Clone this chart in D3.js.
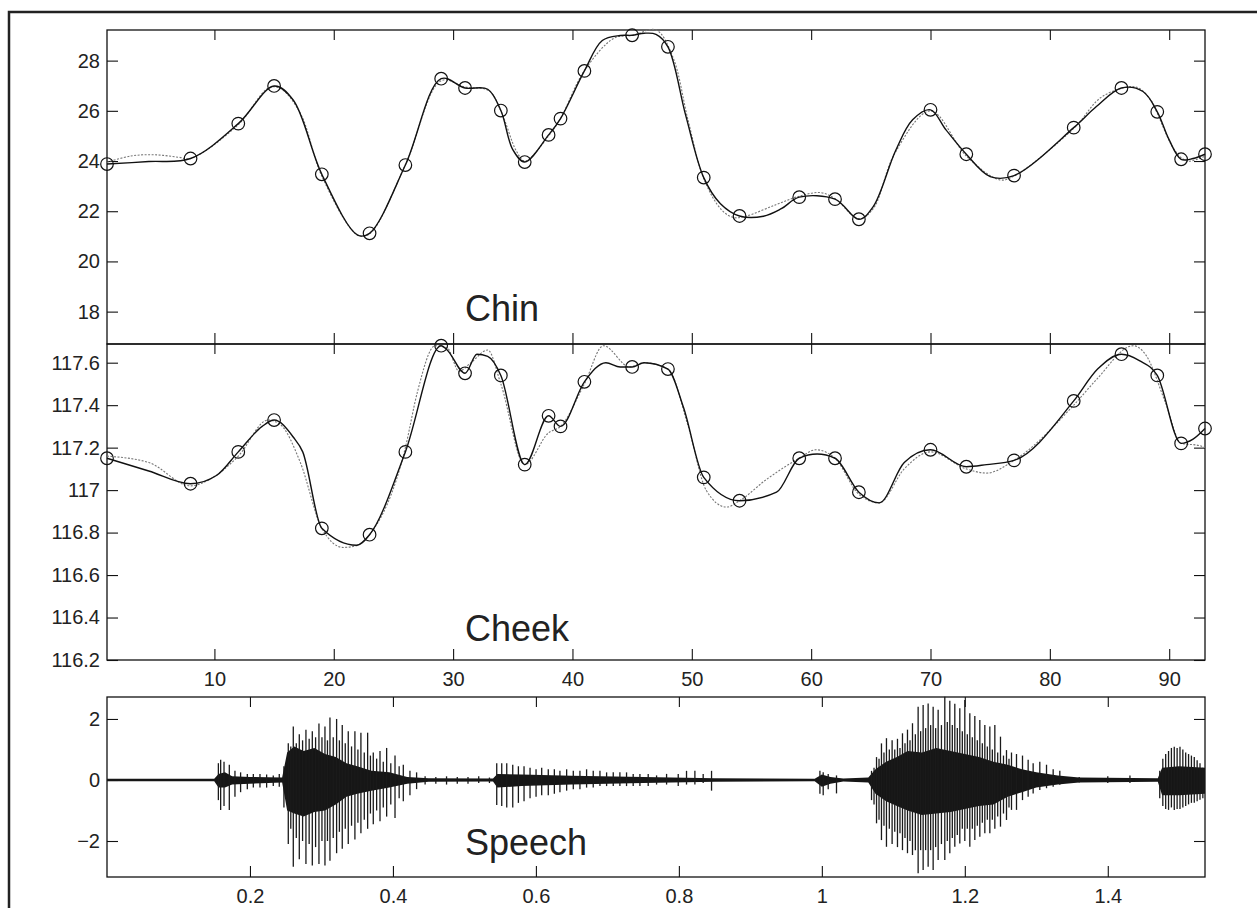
<!DOCTYPE html>
<html>
<head>
<meta charset="utf-8">
<script src="https://cdn.jsdelivr.net/npm/d3@7"></script>
<style>
  body { margin: 0; background: #fff; }
  svg { display: block; }
</style>
</head>
<body>
<svg id="chart" width="1257" height="908"></svg>
<script>
// key frames (circles) shared by the Chin and Cheek panels
const keyFrames = [1, 8, 12, 15, 19, 23, 26, 29, 31, 34, 36, 38, 39, 41, 45, 48, 51, 54, 59, 62, 64, 70, 73, 77, 82, 86, 89, 91, 93];
const chinKeys  = [23.88, 24.10, 25.49, 26.99, 23.47, 21.12, 23.84, 27.28, 26.91, 26.01, 23.96, 25.04, 25.69, 27.59, 29.01, 28.55, 23.34, 21.81, 22.56, 22.48, 21.68, 26.04, 24.27, 23.42, 25.33, 26.91, 25.96, 24.07, 24.27];
const cheekKeys = [117.15, 117.03, 117.18, 117.33, 116.82, 116.79, 117.18, 117.68, 117.55, 117.54, 117.12, 117.35, 117.30, 117.51, 117.58, 117.57, 117.06, 116.95, 117.15, 117.15, 116.99, 117.19, 117.11, 117.14, 117.42, 117.64, 117.54, 117.22, 117.29];

const chinSolidF = [1, 4.5, 8, 12, 15, 16.6, 19, 22, 23, 26, 29, 31, 32.9, 34, 35, 36, 38, 39, 41, 42.5, 44, 45, 46, 47, 48, 49.5, 51, 52.4, 54, 56, 57.5, 59, 62, 64, 65.2, 67.1, 68.5, 70, 71.3, 73, 75, 77, 82, 83.9, 86, 87.8, 89, 90, 91, 92, 93];
const chinSolidV = [23.88, 23.98, 24.10, 25.49, 26.99, 26.43, 23.47, 21.05, 21.12, 23.84, 27.28, 26.91, 26.86, 26.01, 24.45, 23.96, 25.04, 25.69, 27.59, 28.80, 29.00, 29.01, 29.09, 29.05, 28.55, 25.80, 23.34, 22.30, 21.81, 21.80, 22.10, 22.56, 22.48, 21.68, 22.18, 24.44, 25.64, 26.04, 25.24, 24.27, 23.38, 23.42, 25.33, 26.17, 26.91, 26.77, 25.96, 24.84, 24.07, 24.10, 24.27];
const chinDotF = [1, 3, 5, 7, 8, 12, 14.5, 15.5, 17.2, 19, 22, 23, 26, 29, 31, 33, 34, 35.3, 36, 38, 39, 41, 43.5, 45, 47, 48.4, 49.7, 51, 52.5, 53.5, 54.5, 57, 59, 60.8, 62, 64, 65.2, 67, 70, 73, 75.8, 77, 82, 84.4, 87.2, 88.5, 89, 90.5, 91.5, 92.5, 93];
const chinDotV = [23.95, 24.20, 24.25, 24.15, 24.10, 25.45, 26.90, 26.90, 25.90, 23.40, 21.05, 21.10, 23.85, 27.20, 26.95, 26.80, 26.00, 24.40, 24.00, 25.00, 25.70, 27.60, 28.90, 29.00, 29.22, 28.16, 25.60, 23.30, 22.05, 21.75, 21.80, 22.25, 22.60, 22.74, 22.50, 21.70, 22.10, 24.30, 26.00, 24.20, 23.25, 23.40, 25.30, 26.57, 26.95, 26.40, 25.90, 24.40, 24.00, 24.10, 24.20];

const cheekSolidF = [1, 4.5, 8, 10.2, 12, 14, 15, 16.6, 17.4, 19, 21.9, 23, 26, 29, 29.5, 31, 32, 32.9, 34, 36, 38, 39, 41, 42.8, 44, 45, 46, 48, 49.3, 51, 54, 57.1, 59, 60.5, 62, 64, 65.7, 67.8, 70, 73, 74.7, 77, 82, 84, 86, 87.5, 89, 91, 92, 93];
const cheekSolidV = [117.15, 117.09, 117.03, 117.07, 117.18, 117.30, 117.33, 117.25, 117.18, 116.82, 116.74, 116.79, 117.18, 117.68, 117.66, 117.55, 117.64, 117.63, 117.54, 117.12, 117.35, 117.30, 117.51, 117.60, 117.58, 117.58, 117.60, 117.57, 117.39, 117.06, 116.95, 116.99, 117.15, 117.17, 117.15, 116.99, 116.94, 117.13, 117.19, 117.11, 117.12, 117.14, 117.42, 117.57, 117.64, 117.61, 117.54, 117.22, 117.24, 117.29];
const cheekDotF = [1, 4.5, 8, 9.6, 12, 14.5, 15.5, 17.2, 19, 20.8, 22, 23, 26, 27, 28.5, 29.5, 30.5, 31.5, 32.9, 34, 36, 38, 39, 41, 42.6, 44.8, 46, 48, 49.7, 51.2, 52.9, 54, 56.25, 59, 60.4, 62, 64, 65.7, 67.8, 70, 73, 74.7, 77, 82, 83.9, 87, 88, 89.7, 91, 92.5, 93];
const cheekDotV = [117.16, 117.13, 117.02, 117.05, 117.16, 117.33, 117.31, 117.13, 116.82, 116.73, 116.74, 116.79, 117.20, 117.46, 117.68, 117.67, 117.56, 117.60, 117.66, 117.50, 117.12, 117.27, 117.30, 117.50, 117.68, 117.58, 117.60, 117.57, 117.30, 117.00, 116.92, 116.95, 117.05, 117.15, 117.19, 117.15, 116.98, 116.94, 117.10, 117.18, 117.10, 117.08, 117.14, 117.40, 117.52, 117.68, 117.64, 117.41, 117.22, 117.21, 117.20];

// speech waveform: glottal pulses (time s, upper and lower peak) and the dense core band
const pulseT = [
  0.1558, 0.1590, 0.1637, 0.1711, 0.1790, 0.1869, 0.1963, 0.2047, 0.2140, 0.2233, 0.2326, 0.2410, 0.2475,
  0.2536, 0.2571, 0.2606, 0.2648, 0.2690, 0.2736, 0.2783, 0.2828, 0.2872, 0.2918, 0.2965, 0.3007, 0.3049, 0.3084, 0.3119, 0.3165, 0.3212, 0.3251, 0.3291, 0.3333, 0.3375, 0.3421, 0.3468, 0.3510, 0.3552, 0.3599, 0.3646, 0.3685, 0.3725, 0.3772, 0.3819, 0.3865, 0.3912, 0.3970, 0.4029, 0.4087, 0.4145, 0.4238, 0.4331,
  0.4450, 0.4600, 0.4750, 0.4900, 0.5050, 0.5200, 0.5350,
  0.5452, 0.5522, 0.5592, 0.5676, 0.5755, 0.5834, 0.5918, 0.6002, 0.6081, 0.6173, 0.6258, 0.6336, 0.6430, 0.6523, 0.6616, 0.6709, 0.6802, 0.6896, 0.6989, 0.7082, 0.7175, 0.7268, 0.7361, 0.7455, 0.7571, 0.7688, 0.7828, 0.7991, 0.8107, 0.8224, 0.8340, 0.8457,
  0.9973, 1.0019, 1.0089, 1.0205,
  1.0695, 1.0730, 1.0765, 1.0800, 1.0834, 1.0869, 1.0904, 1.0944, 1.0983, 1.1020, 1.1058, 1.1093, 1.1128, 1.1163, 1.1198, 1.1233, 1.1268, 1.1308, 1.1347, 1.1382, 1.1417, 1.1452, 1.1487, 1.1522, 1.1557, 1.1592, 1.1627, 1.1673, 1.1720, 1.1755, 1.1790, 1.1825, 1.1860, 1.1895, 1.1930, 1.1965, 1.2000, 1.2035, 1.2070, 1.2105, 1.2140, 1.2175, 1.2210, 1.2245, 1.2280, 1.2315, 1.2350, 1.2385, 1.2420, 1.2460, 1.2499, 1.2541, 1.2583, 1.2618, 1.2653, 1.2723, 1.2807, 1.2886, 1.2956, 1.3049, 1.3143, 1.3236, 1.3329,
  1.3600, 1.4000, 1.4310,
  1.4727, 1.4770, 1.4810, 1.4850, 1.4890, 1.4930, 1.4970, 1.5010, 1.5050, 1.5090, 1.5130, 1.5170, 1.5210, 1.5250, 1.5290, 1.5330
];
const pulseHi = [
  0.55, 0.66, 0.60, 0.50, 0.30, 0.25, 0.20, 0.20, 0.20, 0.18, 0.15, 0.20, 0.45,
  1.20, 1.10, 1.75, 1.20, 1.50, 1.30, 1.65, 1.35, 1.60, 1.40, 1.85, 1.40, 1.75, 1.30, 2.05, 1.40, 2.00, 1.30, 1.80, 1.20, 1.60, 1.10, 1.60, 1.00, 1.55, 0.90, 1.55, 0.80, 0.90, 0.70, 0.95, 0.60, 1.05, 0.55, 0.80, 0.45, 0.50, 0.30, 0.25,
  0.12, 0.10, 0.12, 0.10, 0.10, 0.12, 0.08,
  0.55, 0.55, 0.55, 0.50, 0.45, 0.45, 0.40, 0.35, 0.40, 0.35, 0.35, 0.30, 0.35, 0.30, 0.30, 0.35, 0.30, 0.30, 0.25, 0.25, 0.25, 0.25, 0.20, 0.20, 0.20, 0.15, 0.20, 0.20, 0.30, 0.30, 0.20, 0.30,
  0.30, 0.25, 0.20, 0.15,
  0.30, 0.40, 0.75, 0.70, 1.20, 0.90, 1.37, 1.00, 1.30, 1.00, 1.35, 1.05, 1.53, 1.20, 1.65, 1.30, 1.86, 1.50, 2.40, 1.60, 2.46, 1.70, 2.51, 1.80, 2.40, 1.70, 2.30, 1.80, 2.73, 1.90, 2.60, 1.80, 2.50, 1.70, 2.35, 1.60, 2.62, 1.50, 2.19, 1.40, 2.10, 1.30, 1.97, 1.20, 1.80, 1.10, 1.75, 1.00, 1.80, 0.90, 1.42, 0.80, 0.98, 0.70, 0.90, 0.85, 0.80, 0.66, 0.55, 0.60, 0.50, 0.35, 0.30,
  0.10, 0.12, 0.15,
  0.30, 0.70, 0.85, 0.95, 1.05, 1.09, 1.05, 1.09, 1.00, 0.90, 0.85, 0.80, 0.75, 0.65, 0.55, 0.40
];
const pulseLo = [
  -0.66, -0.98, -0.85, -0.98, -0.55, -0.40, -0.30, -0.25, -0.25, -0.25, -0.20, -0.22, -0.90,
  -2.10, -1.60, -2.84, -1.90, -2.60, -2.00, -2.75, -2.10, -2.80, -2.20, -2.75, -2.00, -2.80, -2.00, -2.65, -1.90, -2.40, -1.70, -2.25, -1.60, -2.10, -1.50, -1.95, -1.40, -1.75, -1.30, -1.60, -1.10, -1.45, -1.00, -1.35, -0.90, -1.20, -0.80, -1.25, -0.60, -0.70, -0.50, -0.30,
  -0.15, -0.12, -0.15, -0.12, -0.12, -0.10, -0.10,
  -0.82, -0.85, -0.90, -0.90, -0.75, -0.70, -0.60, -0.55, -0.50, -0.50, -0.45, -0.40, -0.35, -0.30, -0.30, -0.25, -0.25, -0.20, -0.20, -0.20, -0.20, -0.20, -0.20, -0.20, -0.20, -0.15, -0.15, -0.20, -0.15, -0.15, -0.10, -0.35,
  -0.45, -0.50, -0.30, -0.44,
  -0.66, -0.80, -1.42, -1.30, -1.97, -1.50, -2.19, -1.60, -2.10, -1.70, -2.20, -1.75, -2.30, -1.90, -2.40, -2.00, -2.46, -2.30, -3.06, -2.30, -2.95, -2.30, -2.84, -2.30, -2.95, -2.20, -2.62, -2.10, -2.62, -2.00, -2.40, -1.90, -2.19, -1.80, -2.08, -1.60, -2.00, -1.60, -2.19, -1.60, -1.97, -1.50, -1.86, -1.40, -1.75, -1.30, -1.75, -1.30, -1.60, -1.20, -1.53, -1.10, -1.31, -0.90, -0.98, -0.98, -0.66, -0.55, -0.44, -0.33, -0.27, -0.22, -0.16,
  -0.08, -0.10, -0.10,
  -0.60, -0.85, -0.95, -0.98, -0.90, -0.98, -0.95, -0.95, -0.90, -0.85, -0.80, -0.75, -0.75, -0.70, -0.65, -0.60
];
const coreT  = [0, 0.150, 0.156, 0.165, 0.175, 0.200, 0.245, 0.252, 0.262, 0.275, 0.290, 0.305, 0.320, 0.335, 0.350, 0.370, 0.395, 0.420, 0.450, 0.540, 0.546, 0.580, 0.650, 0.750, 0.850, 0.990, 1.000, 1.012, 1.030, 1.065, 1.075, 1.090, 1.105, 1.120, 1.140, 1.160, 1.180, 1.200, 1.220, 1.240, 1.260, 1.280, 1.300, 1.330, 1.360, 1.470, 1.476, 1.500, 1.536];
const coreHi = [0.04, 0.04, 0.20, 0.25, 0.12, 0.10, 0.08, 0.90, 1.10, 0.95, 1.05, 0.85, 0.75, 0.55, 0.45, 0.30, 0.25, 0.10, 0.06, 0.05, 0.20, 0.18, 0.14, 0.10, 0.06, 0.04, 0.18, 0.10, 0.05, 0.08, 0.35, 0.60, 0.75, 0.95, 0.90, 1.05, 0.95, 0.85, 0.75, 0.60, 0.50, 0.35, 0.25, 0.15, 0.08, 0.06, 0.40, 0.45, 0.40];
const coreLo = [-0.04, -0.04, -0.25, -0.25, -0.15, -0.12, -0.08, -1.00, -1.10, -1.20, -1.05, -1.00, -0.80, -0.55, -0.45, -0.35, -0.25, -0.12, -0.06, -0.05, -0.25, -0.20, -0.15, -0.10, -0.06, -0.04, -0.22, -0.12, -0.05, -0.08, -0.45, -0.70, -0.85, -1.00, -1.15, -1.10, -1.05, -0.95, -0.85, -0.80, -0.55, -0.40, -0.25, -0.15, -0.08, -0.06, -0.50, -0.50, -0.45];

// ticks
const frameTicks = [10, 20, 30, 40, 50, 60, 70, 80, 90];
const chinTicks = [18, 20, 22, 24, 26, 28];
const cheekTicks = [116.2, 116.4, 116.6, 116.8, 117, 117.2, 117.4, 117.6];
const timeTicks = [0.2, 0.4, 0.6, 0.8, 1, 1.2, 1.4];
const speechTicks = [-2, 0, 2];

const svg = d3.select("#chart");
const font = "'Liberation Sans', Arial, Helvetica, sans-serif";
const left = 107, right = 1205;

// outer frame (left and top edges)
svg.append("path")
  .attr("d", "M9,908V12H1257")
  .attr("fill", "none")
  .attr("stroke", "#222")
  .attr("stroke-width", 2.5);

function panel(top, bottom, x, y, xTicks, yTicks, showX, yFmt) {
  const g = svg.append("g");

  g.append("g").attr("transform", `translate(${left},0)`)
    .call(d3.axisLeft(y).tickValues(yTicks).tickSize(-11).tickPadding(7).tickFormat(yFmt));
  g.append("g").attr("transform", `translate(${right},0)`)
    .call(d3.axisRight(y).tickValues(yTicks).tickSize(-11).tickFormat(""));
  g.append("g").attr("transform", `translate(0,${top})`)
    .call(d3.axisTop(x).tickValues(xTicks).tickSize(-10).tickFormat(""));
  g.append("g").attr("transform", `translate(0,${bottom})`)
    .call(d3.axisBottom(x).tickValues(xTicks).tickSize(-11).tickPadding(12)
      .tickFormat(showX ? (d => String(d)) : ""));

  g.selectAll(".domain").remove();
  g.selectAll(".tick line").attr("stroke", "#111").attr("stroke-width", 1.1);
  g.selectAll(".tick text").attr("font-family", font).attr("font-size", 20).attr("fill", "#222");

  g.append("rect")
    .attr("x", left).attr("y", top)
    .attr("width", right - left).attr("height", bottom - top)
    .attr("fill", "none").attr("stroke", "#111").attr("stroke-width", 1.3);
  return g;
}

function label(txt, yBase) {
  svg.append("text")
    .attr("x", 465).attr("y", yBase)
    .attr("font-family", font).attr("font-size", 36).attr("fill", "#222")
    .text(txt);
}

function tracks(g, x, y, sF, sV, dF, dV, kV, curve) {
  const line = d3.line().x(d => x(d[0])).y(d => y(d[1])).curve(curve);
  g.append("path")
    .datum(d3.zip(dF, dV))
    .attr("fill", "none").attr("stroke", "#777").attr("stroke-width", 1.1)
    .attr("stroke-dasharray", "2,1.5")
    .attr("d", line);
  g.append("path")
    .datum(d3.zip(sF, sV))
    .attr("fill", "none").attr("stroke", "#111").attr("stroke-width", 1.4)
    .attr("d", line);
  g.selectAll("circle.key")
    .data(d3.zip(keyFrames, kV))
    .join("circle")
    .attr("class", "key")
    .attr("cx", d => x(d[0])).attr("cy", d => y(d[1]))
    .attr("r", 6.3)
    .attr("fill", "none").attr("stroke", "#111").attr("stroke-width", 1.2);
}

// Chin
const xF = d3.scaleLinear().domain([1, 93]).range([left, right]);
const yChin = d3.scaleLinear().domain([16.71, 29.22]).range([344, 30]);
const gChin = panel(30, 344, xF, yChin, frameTicks, chinTicks, false, d => String(d));
tracks(gChin, xF, yChin, chinSolidF, chinSolidV, chinDotF, chinDotV, chinKeys, d3.curveCatmullRom.alpha(0.5));
label("Chin", 321);

// Cheek
const yCheek = d3.scaleLinear().domain([116.2, 117.688]).range([660, 344]);
const gCheek = panel(344, 660, xF, yCheek, frameTicks, cheekTicks, true, d => String(d));
tracks(gCheek, xF, yCheek, cheekSolidF, cheekSolidV, cheekDotF, cheekDotV, cheekKeys, d3.curveMonotoneX);
label("Cheek", 641);

// Speech
const xT = d3.scaleLinear().domain([0, 1.536]).range([left, right]);
const yS = d3.scaleLinear().domain([-3.18, 2.72]).range([877, 697]);
const gS = panel(697, 877, xT, yS, timeTicks, speechTicks, true, d => d < 0 ? "\u2212" + Math.abs(d) : String(d));

gS.append("path")
  .datum(d3.range(coreT.length))
  .attr("fill", "#161616")
  .attr("d", d3.area().x(i => xT(coreT[i])).y0(i => yS(coreLo[i])).y1(i => yS(coreHi[i])));
gS.append("line")
  .attr("x1", xT(0)).attr("x2", xT(1.536))
  .attr("y1", yS(0)).attr("y2", yS(0))
  .attr("stroke", "#161616").attr("stroke-width", 2);
gS.selectAll("line.pulse")
  .data(d3.range(pulseT.length))
  .join("line")
  .attr("class", "pulse")
  .attr("x1", i => xT(pulseT[i])).attr("x2", i => xT(pulseT[i]))
  .attr("y1", i => yS(pulseHi[i])).attr("y2", i => yS(pulseLo[i]))
  .attr("stroke", "#1a1a1a").attr("stroke-width", 1.3);
label("Speech", 855);
</script>
</body>
</html>
